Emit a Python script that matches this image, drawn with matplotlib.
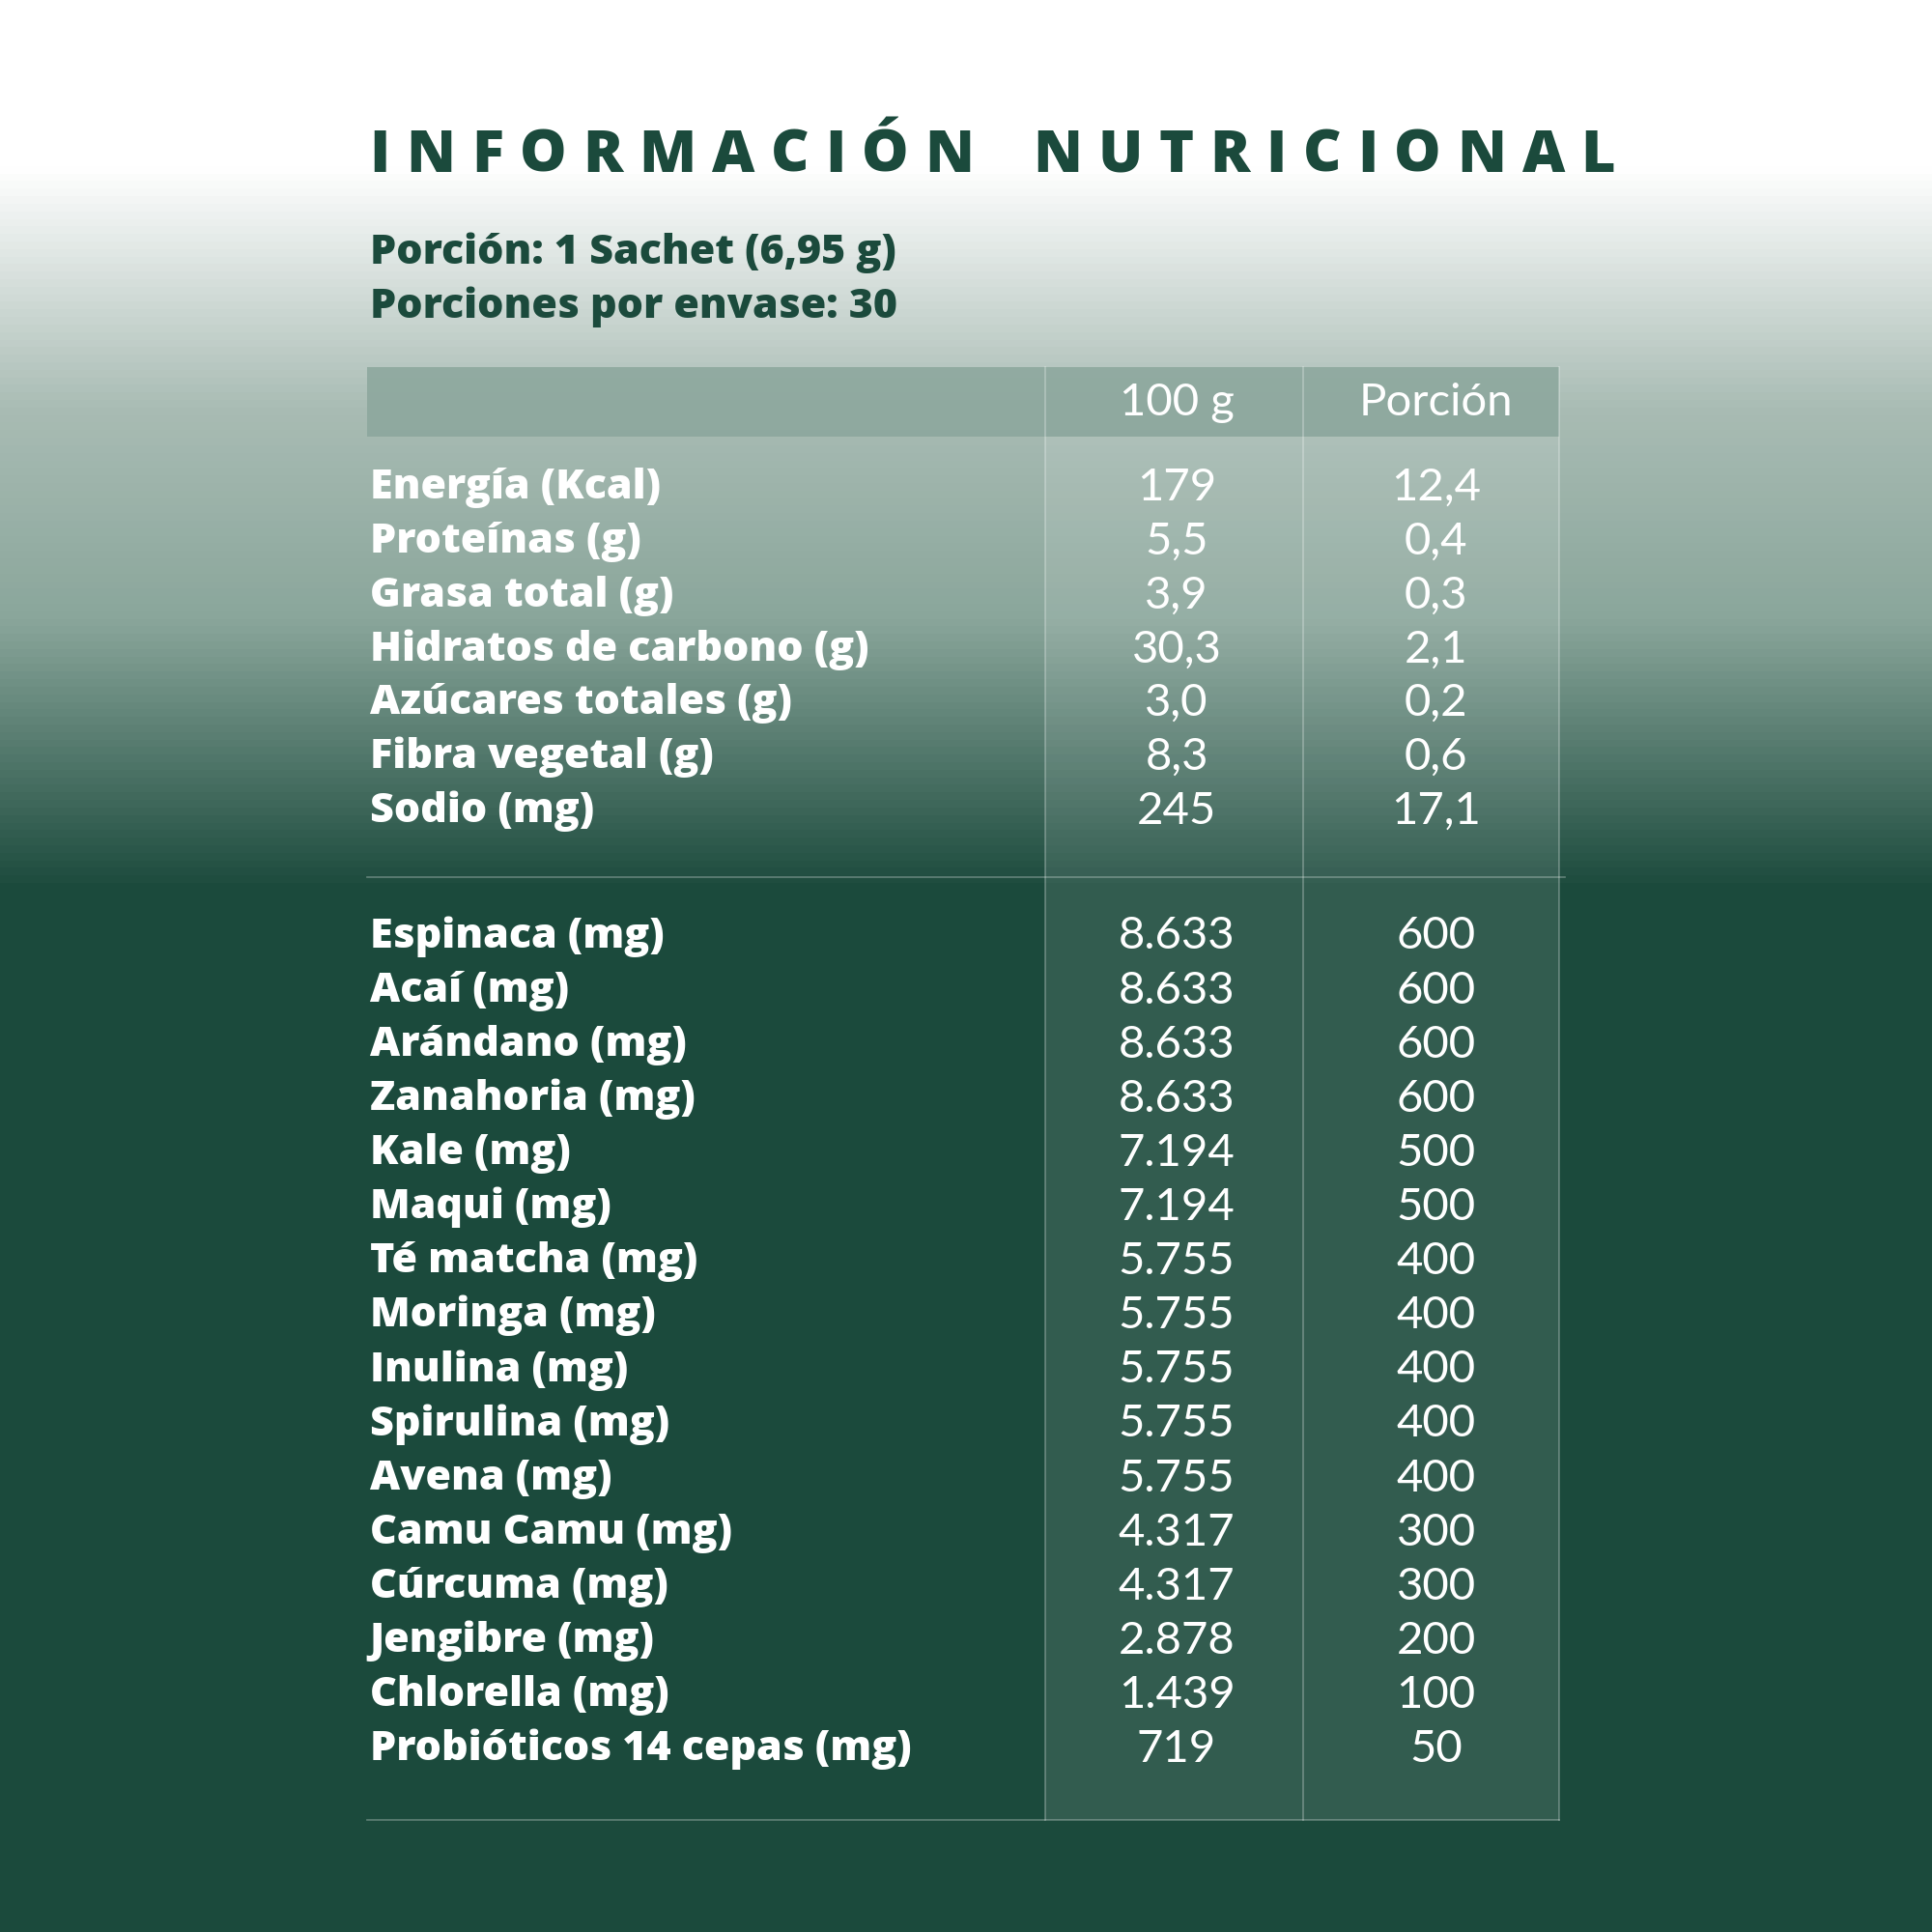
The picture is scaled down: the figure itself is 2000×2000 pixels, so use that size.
import numpy as np
import matplotlib.pyplot as plt
from matplotlib.colors import LinearSegmentedColormap

title = 'INFORMACIÓN NUTRICIONAL'
serving = ['Porción: 1 Sachet (6,95 g)', 'Porciones por envase: 30']
col_heads = ['100 g', 'Porción']

block1_labels = ['Energía (Kcal)', 'Proteínas (g)', 'Grasa total (g)', 'Hidratos de carbono (g)',
                 'Azúcares totales (g)', 'Fibra vegetal (g)', 'Sodio (mg)']
block1_100g = ['179', '5,5', '3,9', '30,3', '3,0', '8,3', '245']
block1_por = ['12,4', '0,4', '0,3', '2,1', '0,2', '0,6', '17,1']

block2_labels = ['Espinaca (mg)', 'Acaí (mg)', 'Arándano (mg)', 'Zanahoria (mg)', 'Kale (mg)',
                 'Maqui (mg)', 'Té matcha (mg)', 'Moringa (mg)', 'Inulina (mg)', 'Spirulina (mg)',
                 'Avena (mg)', 'Camu Camu (mg)', 'Cúrcuma (mg)', 'Jengibre (mg)', 'Chlorella (mg)',
                 'Probióticos 14 cepas (mg)']
block2_100g = ['8.633', '8.633', '8.633', '8.633', '7.194', '7.194', '5.755', '5.755', '5.755',
               '5.755', '5.755', '4.317', '4.317', '2.878', '1.439', '719']
block2_por = ['600', '600', '600', '600', '500', '500', '400', '400', '400', '400', '400',
              '300', '300', '200', '100', '50']

DARK = '#1b4a3c'
S = 1568.0
LFONT = 'Open Sans'

fig = plt.figure(figsize=(20, 20), dpi=100)
ax = fig.add_axes([0, 0, 1, 1])
ax.set_xlim(0, S)
ax.set_ylim(S, 0)
ax.axis('off')

# background gradient
cmap = LinearSegmentedColormap.from_list('bg', [(0, '#ffffff'), (0.085, '#ffffff'),
                                                (0.21, '#a9bcb4'), (0.32, '#8aa69b'),
                                                (0.46, '#1b4a3c'), (1, '#1b4a3c')])
grad = np.linspace(0, 1, 512).reshape(-1, 1)
ax.imshow(grad, cmap=cmap, extent=[0, S, S, 0], aspect='auto', zorder=0)

# table decorations
L, C1, C2, R = 298, 848, 1058, 1265
ax.fill_between([L, R], 298, 354, color='#8ba69c', alpha=0.85, zorder=1, lw=0)
ax.fill_between([C1, R], 354, 1477, color='white', alpha=0.10, zorder=1, lw=0)
for x in (C1, C2, R):
    ax.plot([x, x], [298, 1477], color='white', alpha=0.3, lw=1.2, zorder=2)
ax.plot([L, 1270], [712, 712], color='white', alpha=0.3, lw=1.2, zorder=2)
ax.plot([L, R], [1477, 1477], color='white', alpha=0.3, lw=1.2, zorder=2)

# letter-spaced title
renderer = fig.canvas.get_renderer()
x = 300.0
px_per_unit = 2000 / S
for ch in title:
    t = ax.text(x, 127, ch, fontsize=44, fontweight='heavy', family=LFONT, color=DARK,
                va='center', ha='left')
    w = t.get_window_extent(renderer).width / px_per_unit if ch != ' ' else 22
    x += w + 13

for i, s in enumerate(serving):
    ax.text(300, 205 + 44 * i, s, fontsize=31, fontweight='heavy', family=LFONT,
            color=DARK, va='center')

mid1, mid2 = (C1 + C2) / 2 + 2, (C2 + R) / 2 + 4
NUM = dict(fontsize=34, fontweight='normal', family='Lato', color='white',
           ha='center', va='center')
ax.text(mid1, 327, col_heads[0], **NUM)
ax.text(mid2, 327, col_heads[1], **NUM)

def block(labels, v1, v2, y0, step):
    for i, (lab, a, b) in enumerate(zip(labels, v1, v2)):
        y = y0 + step * i
        ax.text(300, y, lab, fontsize=31, fontweight='heavy', family=LFONT, color='white',
                va='center')
        ax.text(mid1, y, a, **NUM)
        ax.text(mid2, y, b, **NUM)

block(block1_labels, block1_100g, block1_por, 396, 43.7)
block(block2_labels, block2_100g, block2_por, 760, 44.0)

fig.savefig('out.png', dpi=100)
